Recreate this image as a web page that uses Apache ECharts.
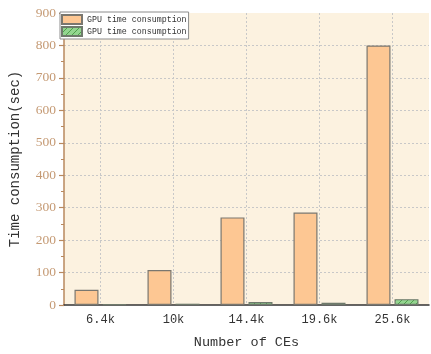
<!DOCTYPE html>
<html>
<head>
<meta charset="utf-8">
<script src="https://cdn.jsdelivr.net/npm/echarts@6/dist/echarts.min.js"></script>
<style>
  html, body { margin: 0; padding: 0; background: #ffffff; }
  #chart { width: 431px; height: 354px; }
</style>
</head>
<body>
<div id="chart"></div>
<script>
// Number of computing elements on the x axis
const categories = ['6.4k', '10k', '14.4k', '19.6k', '25.6k'];
// Seconds, first series (orange bars)
const seriesA = [47, 108, 270, 285, 800];
// Seconds, second series (green hatched bars)
const seriesB = [2, 4, 9, 7, 18];
const seriesNames = ['GPU time consumption', 'GPU time consumption'];

// Diagonal hatch fill for the second series
function hatchPattern() {
  const c = document.createElement('canvas');
  c.width = 6; c.height = 6;
  const g = c.getContext('2d');
  g.fillStyle = '#93d68f';
  g.fillRect(0, 0, 6, 6);
  g.strokeStyle = '#4f9f4c';
  g.lineWidth = 1;
  g.beginPath();
  g.moveTo(-1, 7); g.lineTo(7, -1);
  g.moveTo(-1, 1); g.lineTo(1, -1);
  g.moveTo(5, 7); g.lineTo(7, 5);
  g.stroke();
  return c;
}

const mono = 'Liberation Mono';
const serif = 'Liberation Serif';

const chart = echarts.init(document.getElementById('chart'), null, { renderer: 'canvas' });
chart.setOption({
  animation: false,
  backgroundColor: '#ffffff',
  grid: {
    left: 61, right: 2, top: 13, bottom: 45,
    show: true, backgroundColor: '#fcf2e0', borderWidth: 0
  },
  legend: {
    orient: 'vertical',
    left: 60, top: 12,
    icon: 'rect',
    itemWidth: 20, itemHeight: 9, itemGap: 1,
    padding: [2, 2, 2, 1],
    backgroundColor: '#ffffff',
    borderColor: '#8c8c8c', borderWidth: 1,
    textStyle: { fontFamily: mono, fontSize: 8.3, color: '#333333' },
    data: [{ name: 'a' }, { name: 'b' }],
    formatter: function (n) { return n === 'a' ? seriesNames[0] : seriesNames[1]; }
  },
  xAxis: [
    {
      type: 'category',
      data: categories,
      name: 'Number of CEs',
      nameLocation: 'middle',
      nameGap: 30,
      nameTextStyle: { fontFamily: mono, fontSize: 13.5, color: '#333333' },
      axisLine: { lineStyle: { color: '#333333', width: 1.5 } },
      axisTick: { alignWithLabel: true, length: 5, lineStyle: { color: '#333333', width: 1.2 } },
      axisLabel: { fontFamily: mono, fontSize: 12, color: '#333333', margin: 9 },
      splitLine: { show: true, alignWithLabel: true, lineStyle: { color: '#c8c8c8', type: [2, 2], width: 1 } }
    },
    {
      type: 'category',
      data: categories,
      position: 'bottom',
      axisLine: { show: false },
      axisTick: { length: 3, lineStyle: { color: '#333333', width: 1.2 } },
      axisLabel: { show: false },
      splitLine: { show: false }
    }
  ],
  yAxis: {
    type: 'value',
    min: 0, max: 900, interval: 100,
    name: 'Time consumption(sec)',
    nameLocation: 'middle',
    nameGap: 42,
    nameTextStyle: { fontFamily: mono, fontSize: 14, color: '#333333' },
    axisLine: { show: true, lineStyle: { color: '#b8895e', width: 1.5 } },
    axisTick: { show: true, length: 5, lineStyle: { color: '#b8895e', width: 1.2 } },
    minorTick: { show: true, splitNumber: 2, length: 3, lineStyle: { color: '#b8895e', width: 1 } },
    axisLabel: { fontFamily: serif, fontSize: 13.5, color: '#c59a74', margin: 8 },
    splitLine: { show: true, showMinLine: false, showMaxLine: false, lineStyle: { color: '#c8c8c8', type: [2, 2], width: 1 } }
  },
  series: [
    {
      name: 'a',
      type: 'bar',
      data: seriesA,
      barWidth: 24,
      barGap: '16.7%',
      itemStyle: { color: '#fdc793', borderColor: '#7a776f', borderWidth: 1.2 }
    },
    {
      name: 'b',
      type: 'bar',
      data: seriesB,
      barWidth: 24,
      barGap: '16.7%',
      itemStyle: { color: { image: hatchPattern(), repeat: 'repeat' }, borderColor: '#6f7a6c', borderWidth: 1.2 }
    }
  ]
});
</script>
</body>
</html>
